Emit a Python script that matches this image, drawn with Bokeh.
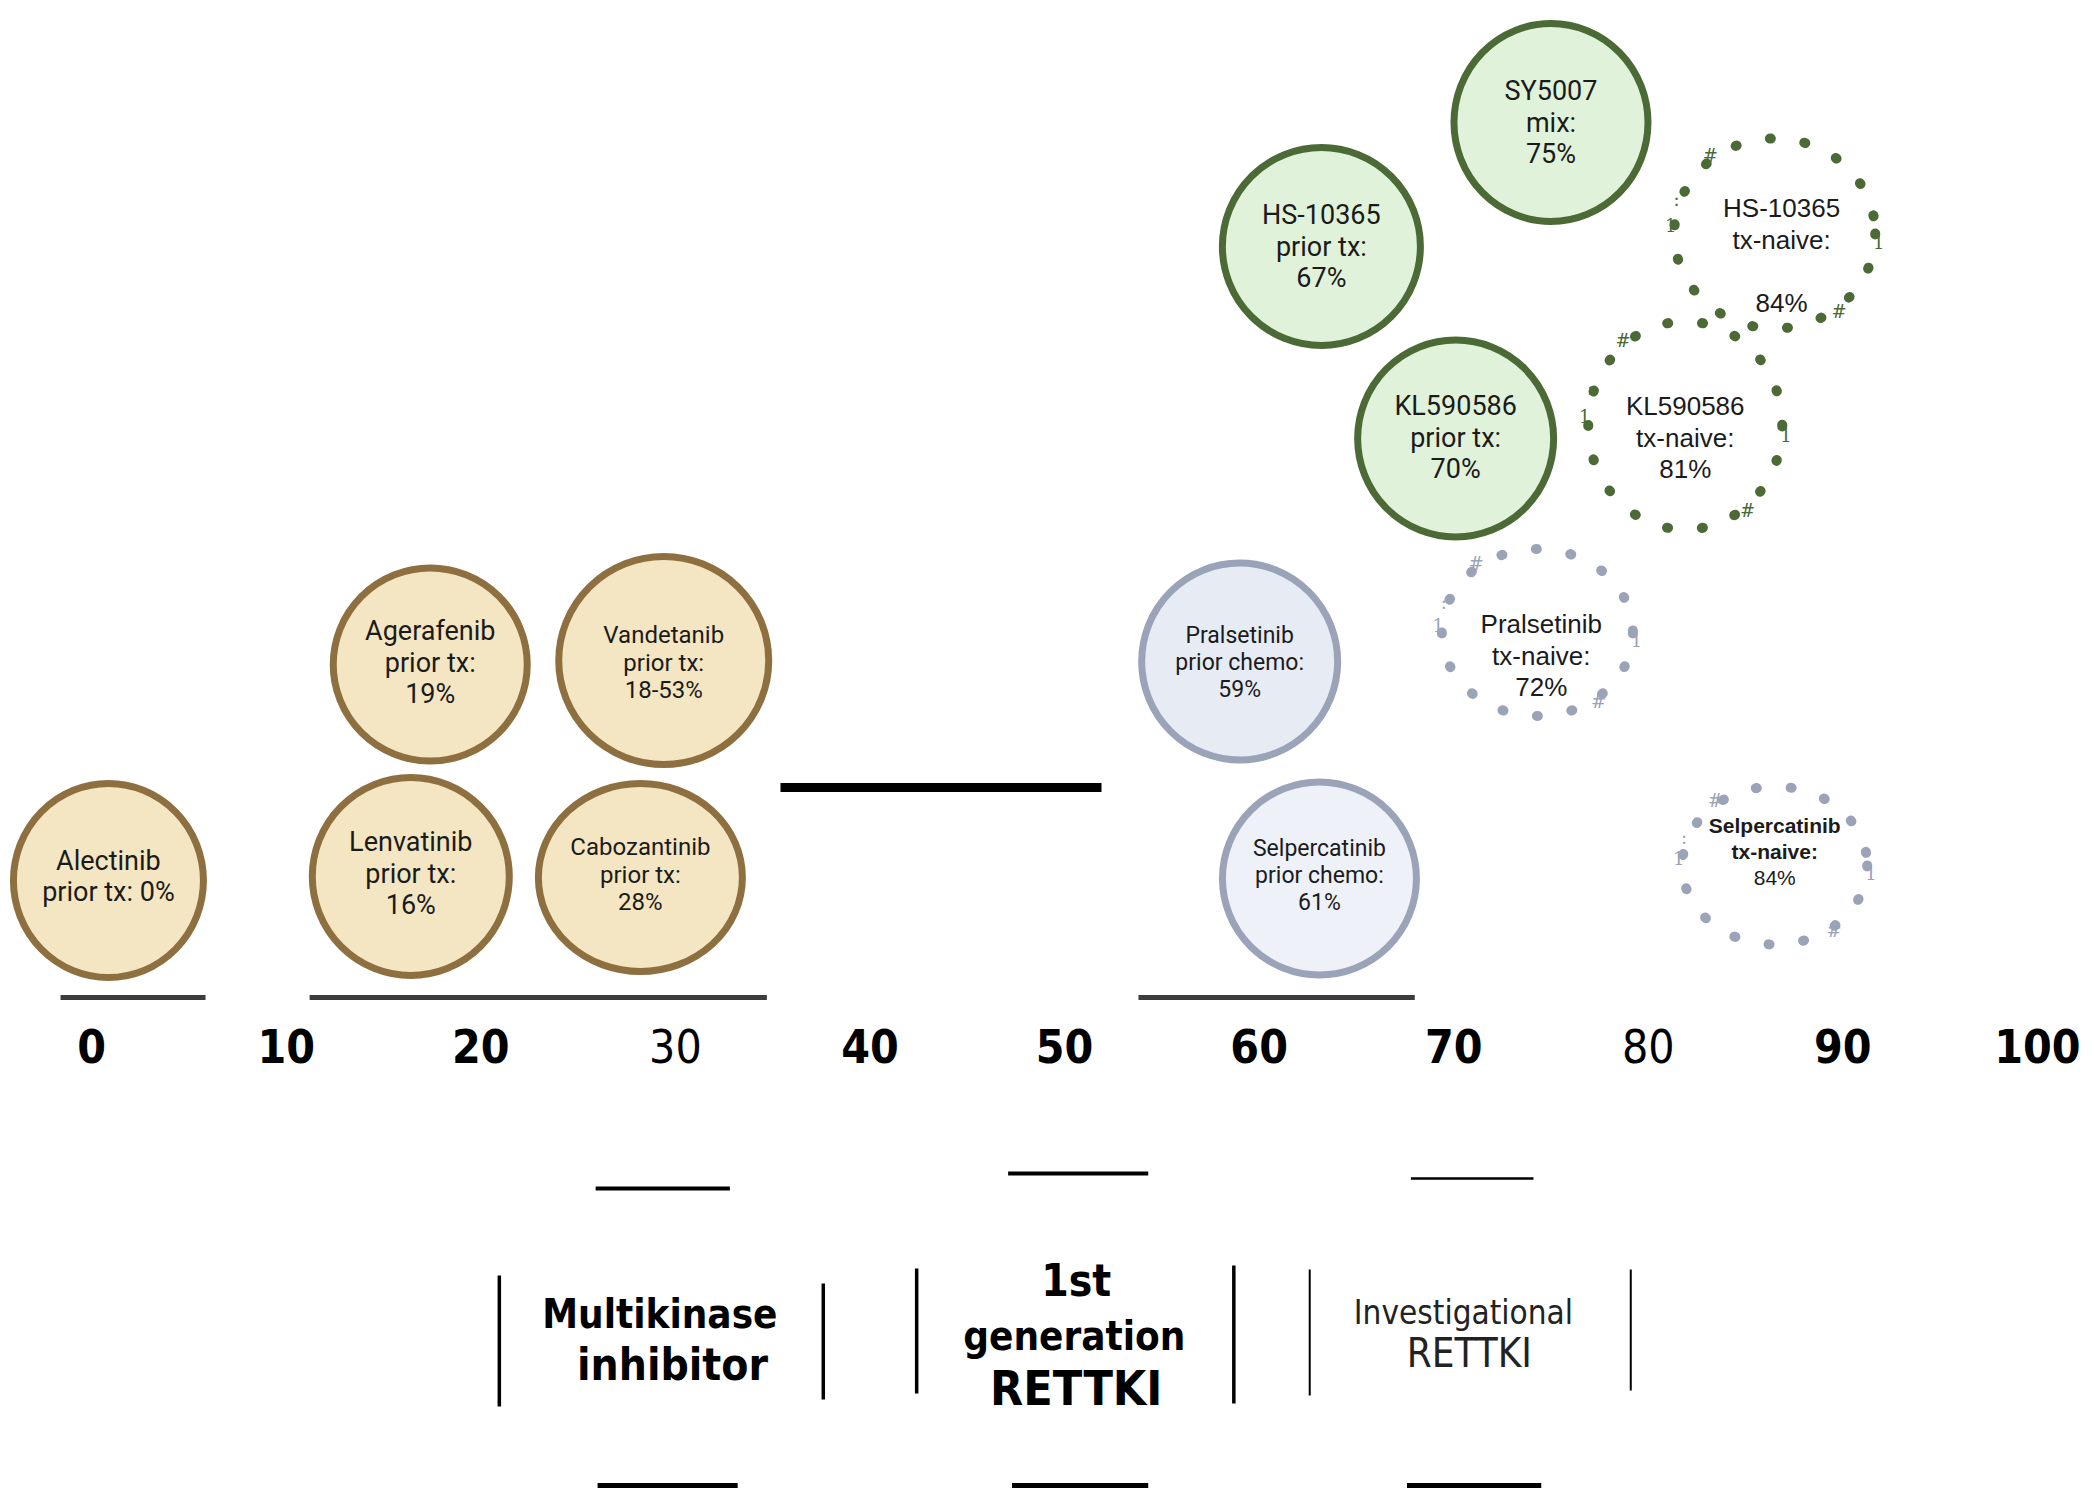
import math
from bokeh.plotting import figure
from bokeh.models import Range1d, ColumnDataSource
from bokeh.core.properties import value
from bokeh.embed import file_html
from bokeh.resources import INLINE

# ---------------- data ----------------
drugs = ["Alectinib", "Agerafenib", "Vandetanib", "Lenvatinib", "Cabozantinib",
         "Pralsetinib", "Selpercatinib", "SY5007", "HS-10365", "KL590586",
         "HS-10365", "KL590586", "Pralsetinib", "Selpercatinib"]
settings = ["prior tx", "prior tx", "prior tx", "prior tx", "prior tx",
            "prior chemo", "prior chemo", "mix", "prior tx", "prior tx",
            "tx-naive", "tx-naive", "tx-naive", "tx-naive"]
orr_labels = ["0%", "19%", "18-53%", "16%", "28%", "59%", "61%", "75%", "67%", "70%",
              "84%", "81%", "72%", "84%"]
drug_class = ["mki", "mki", "mki", "mki", "mki", "gen1", "gen1", "inv", "inv", "inv",
              "inv", "inv", "gen1", "gen1"]
# ORR axis position of each bubble
orr_pos = [0.86, 17.4, 29.4, 16.4, 28.2, 59.0, 63.1, 75.0, 63.2, 70.1, 86.5, 81.9, 74.3, 86.5]

ticks = [0, 10, 20, 30, 40, 50, 60, 70, 80, 90, 100]
tick_bold = [True, True, True, False, True, True, True, True, False, True, True]

class_titles = [["Multikinase", "inhibitor"], ["1st", "generation", "RETTKI"],
                ["Investigational", "RETTKI"]]

# ---------------- layout ----------------
PX_PER_UNIT = 19.457
bub_y = [880, 664, 660, 876, 877, 661, 878, 122, 246, 438, 233, 425, 632, 865]
bub_w = [190, 194, 210, 197, 204, 196, 194, 194, 198, 196, 201, 194, 191, 185]
bub_h = [194, 193, 208, 198, 188, 197, 193, 198, 198, 197, 190, 208, 167, 158]
txt_size = [27, 27, 24, 27, 24, 23, 23, 27, 27, 27, 26, 26, 26, 21]
txt_dy = [-4, -2, 2, -3, -3, 1, -3, 0, 0, -1, 22, 12, 23, -14]
txt_dx = [0, 0, 0, 0, 0, 0, 0, 0, 0, 0, 0.35, 0.0, 0.2, 0.0]

fills = {"mki": "#F4E6C3", "gen1": "#EEF1F7", "inv": "#E0F2DA"}
fill_override = {5: "#E6EBF4"}
lines = {"mki": "#8E7040", "gen1": "#9AA3B8", "inv": "#4B6A35"}
narrow = value("DejaVu Sans Condensed")

p = figure(width=2084, height=1490, x_range=Range1d(-4.687, 102.42),
           y_range=Range1d(1490, 0), output_backend="svg", toolbar_location=None,
           min_border=0)
p.axis.visible = False
p.grid.visible = False
p.outline_line_color = None
p.background_fill_color = "white"

# solid bubbles
solid = [i for i in range(len(drugs)) if settings[i] != "tx-naive"]
src = ColumnDataSource(dict(
    x=[orr_pos[i] for i in solid], y=[bub_y[i] for i in solid],
    w=[bub_w[i] for i in solid], h=[bub_h[i] for i in solid],
    fc=[fill_override.get(i, fills[drug_class[i]]) for i in solid],
    lc=[lines[drug_class[i]] for i in solid]))
p.ellipse(x="x", y="y", width="w", height="h", width_units="screen", height_units="screen",
          fill_color="fc", line_color="lc", line_width=7, source=src)
# dotted (tx-naive) bubbles
naive = [i for i in range(len(drugs)) if settings[i] == "tx-naive"]
src2 = ColumnDataSource(dict(
    x=[orr_pos[i] for i in naive], y=[bub_y[i] for i in naive],
    w=[bub_w[i] for i in naive], h=[bub_h[i] for i in naive],
    lc=[lines[drug_class[i]] for i in naive]))
p.ellipse(x="x", y="y", width="w", height="h", width_units="screen", height_units="screen",
          fill_color=None, line_color="lc", line_width=10, line_dash="1 34", line_cap="round",
          source=src2)
# stray glyph characters around the dotted rings (as in the scanned figure)
gx, gy, gt, gc = [], [], [], []
for i in naive:
    rx, ry = bub_w[i] / 2, bub_h[i] / 2
    for ang, ch in [(175, "1"), (-5, "1"), (128, "#"), (-52, "#"), (160, ":")]:
        a = math.radians(ang)
        gx.append(orr_pos[i] + (rx + 4) * math.cos(a) / PX_PER_UNIT)
        gy.append(bub_y[i] - (ry + 4) * math.sin(a))
        gt.append(ch)
        gc.append(lines[drug_class[i]])
p.text(x=gx, y=gy, text=gt, text_color=gc, text_font=value("DejaVu Serif"),
       text_font_size="18px", text_align="center", text_baseline="middle")

# bubble texts
tx, ty, tt, ts, tw, tf = [], [], [], [], [], []
for i, d in enumerate(drugs):
    if drugs[i] == "Alectinib":
        ls = [d, settings[i] + ": " + orr_labels[i]]
    elif i == 10:
        ls = [d, settings[i] + ":", "", orr_labels[i]]
    else:
        ls = [d, settings[i] + ":", orr_labels[i]]
    sz = txt_size[i]
    sp = sz * 1.16 if settings[i] != "tx-naive" else sz * 1.22
    n = len(ls)
    for k, s in enumerate(ls):
        tx.append(orr_pos[i] + txt_dx[i])
        ty.append(bub_y[i] + txt_dy[i] + (k - (n - 1) / 2) * sp)
        tt.append(s)
        ts.append(f"{sz}px")
        tw.append("bold" if (i == 13 and k < 2) else "normal")
        tf.append("Roboto" if settings[i] != "tx-naive" else "Liberation Sans")
src3 = ColumnDataSource(dict(x=tx, y=ty, t=tt, s=ts, w=tw, f=tf))
p.text(x="x", y="y", text="t", text_font_size="s", text_font_style="w", text_font="f",
       text_align="center", text_baseline="middle", text_color="#1b1b1b", source=src3)

# group brackets above the axis
p.segment(x0=[-1.6, 11.2, 53.8], y0=[997] * 3, x1=[5.85, 34.7, 68.0], y1=[997] * 3,
          line_color="#3c3c3c", line_width=5)
# thick black bar
p.segment(x0=[35.4], y0=[787], x1=[51.9], y1=[787], line_color="black", line_width=9)

# axis tick labels
for bold in (True, False):
    sel = [t for t, b in zip(ticks, tick_bold) if b == bold]
    p.text(x=sel, y=[1045] * len(sel), text=[str(t) for t in sel], text_font=narrow,
           text_font_size="46px", text_font_style="bold" if bold else "normal",
           text_align="center", text_baseline="middle", text_color="black")

# bottom class panel: short horizontal lines
p.segment(x0=[25.9, 47.1, 67.8], y0=[1188, 1173, 1178], x1=[32.8, 54.3, 74.1],
          y1=[1188, 1173, 1178], line_color="black", line_width=[4, 4, 2.5])
p.segment(x0=[26.0, 47.3, 67.6], y0=[1485] * 3, x1=[33.2, 54.3, 74.5], y1=[1485] * 3,
          line_color="black", line_width=5)
# vertical separators
p.segment(x0=[20.95, 37.6, 42.4, 58.7, 62.6, 79.1], y0=[1275, 1283, 1268, 1265, 1269, 1269],
          x1=[20.95, 37.6, 42.4, 58.7, 62.6, 79.1], y1=[1406, 1399, 1393, 1403, 1395, 1390],
          line_color="black", line_width=[3.5, 3.5, 3.5, 3.5, 2, 2])

# class titles
p.text(x=[29.2, 29.85], y=[1313, 1364], text=class_titles[0], text_font=narrow,
       text_font_size=["40px", "44px"], text_font_style="bold",
       text_align="center", text_baseline="middle", text_color="black")
p.text(x=[50.6, 50.5, 50.6], y=[1280, 1335, 1387], text=class_titles[1], text_font=narrow,
       text_font_size=["44px", "40px", "48px"], text_font_style="bold",
       text_align="center", text_baseline="middle", text_color="black")
p.text(x=[70.5, 70.8], y=[1312, 1352], text=class_titles[2], text_font=narrow,
       text_font_size=["33px", "40px"], text_font_style="normal",
       text_align="center", text_baseline="middle", text_color="#222222")

open("out.html", "w").write(file_html(p, INLINE))
